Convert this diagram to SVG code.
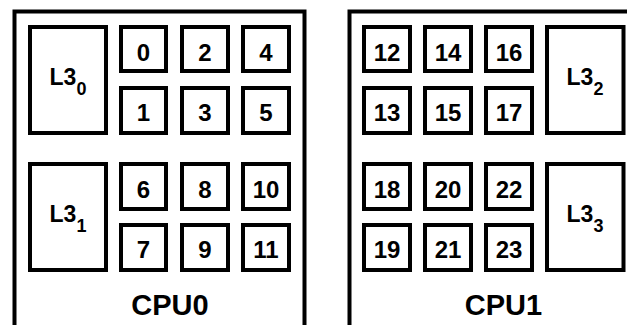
<svg xmlns="http://www.w3.org/2000/svg" width="627" height="325" viewBox="0 0 627 325">
<style>
.frame{fill:none;stroke:#000;stroke-width:4}
.box{fill:#fff;stroke:#000;stroke-width:4}
text{font-family:"Liberation Sans",Arial,sans-serif;font-weight:bold;fill:#000;text-anchor:middle}
.n{font-size:24px}
.l3{font-size:23px}
.sub{font-size:18px}
.cpu{font-size:29px}
</style>
<g id="cpu0">
<path class="frame" d="M14.5,330 V11.5 H304.5 V330"/>
<text class="cpu" x="170" y="315">CPU0</text>
</g>
<g id="cpu1">
<path class="frame" d="M349.5,330 V11.5 H645"/>
<text class="cpu" x="503.5" y="315">CPU1</text>
</g>
<g id="l3_0"><rect class="box" x="30" y="27" width="76" height="106"/><text class="l3" x="68" y="85">L3<tspan class="sub" dy="10">0</tspan></text></g>
<g id="l3_1"><rect class="box" x="30" y="164" width="76" height="106"/><text class="l3" x="68" y="222">L3<tspan class="sub" dy="10">1</tspan></text></g>
<g id="l3_2"><rect class="box" x="547" y="27" width="76.5" height="106"/><text class="l3" x="585" y="85">L3<tspan class="sub" dy="10">2</tspan></text></g>
<g id="l3_3"><rect class="box" x="547" y="164" width="76.5" height="106"/><text class="l3" x="585" y="222">L3<tspan class="sub" dy="10">3</tspan></text></g>
<g id="c0"><rect class="box" x="121" y="27" width="45" height="44"/><text class="n" x="143.5" y="60.5">0</text></g>
<g id="c2"><rect class="box" x="182" y="27" width="46" height="44"/><text class="n" x="205" y="60.5">2</text></g>
<g id="c4"><rect class="box" x="243" y="27" width="46" height="44"/><text class="n" x="266" y="60.5">4</text></g>
<g id="c1"><rect class="box" x="121" y="88" width="45" height="45"/><text class="n" x="143.5" y="121">1</text></g>
<g id="c3"><rect class="box" x="182" y="88" width="46" height="45"/><text class="n" x="205" y="121">3</text></g>
<g id="c5"><rect class="box" x="243" y="88" width="46" height="45"/><text class="n" x="266" y="121">5</text></g>
<g id="c6"><rect class="box" x="121" y="164" width="45" height="45"/><text class="n" x="143.5" y="197.5">6</text></g>
<g id="c8"><rect class="box" x="182" y="164" width="46" height="45"/><text class="n" x="205" y="197.5">8</text></g>
<g id="c10"><rect class="box" x="243" y="164" width="46" height="45"/><text class="n" x="266" y="197.5">10</text></g>
<g id="c7"><rect class="box" x="121" y="225" width="45" height="45"/><text class="n" x="143.5" y="258">7</text></g>
<g id="c9"><rect class="box" x="182" y="225" width="46" height="45"/><text class="n" x="205" y="258">9</text></g>
<g id="c11"><rect class="box" x="243" y="225" width="46" height="45"/><text class="n" x="266" y="258">11</text></g>
<g id="c12"><rect class="box" x="364" y="27" width="46" height="44"/><text class="n" x="387" y="60.5">12</text></g>
<g id="c14"><rect class="box" x="425" y="27" width="46" height="44"/><text class="n" x="448" y="60.5">14</text></g>
<g id="c16"><rect class="box" x="486" y="27" width="46" height="44"/><text class="n" x="509" y="60.5">16</text></g>
<g id="c13"><rect class="box" x="364" y="88" width="46" height="45"/><text class="n" x="387" y="121">13</text></g>
<g id="c15"><rect class="box" x="425" y="88" width="46" height="45"/><text class="n" x="448" y="121">15</text></g>
<g id="c17"><rect class="box" x="486" y="88" width="46" height="45"/><text class="n" x="509" y="121">17</text></g>
<g id="c18"><rect class="box" x="364" y="164" width="46" height="45"/><text class="n" x="387" y="197.5">18</text></g>
<g id="c20"><rect class="box" x="425" y="164" width="46" height="45"/><text class="n" x="448" y="197.5">20</text></g>
<g id="c22"><rect class="box" x="486" y="164" width="46" height="45"/><text class="n" x="509" y="197.5">22</text></g>
<g id="c19"><rect class="box" x="364" y="225" width="46" height="45"/><text class="n" x="387" y="258">19</text></g>
<g id="c21"><rect class="box" x="425" y="225" width="46" height="45"/><text class="n" x="448" y="258">21</text></g>
<g id="c23"><rect class="box" x="486" y="225" width="46" height="45"/><text class="n" x="509" y="258">23</text></g>
<g id="connectors"/>
</svg>
